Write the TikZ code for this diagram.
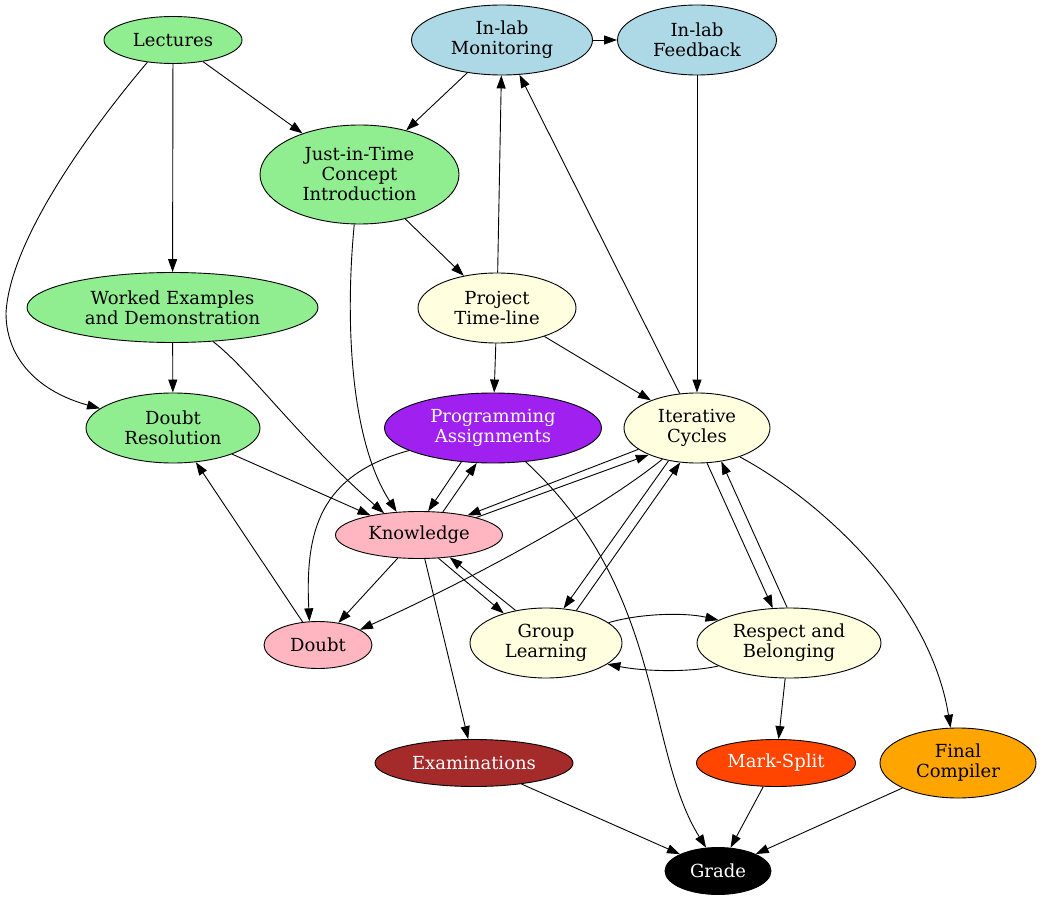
\documentclass[tikz,border=0pt]{standalone}
\usepackage{fontspec}
\setmainfont{DejaVu Serif}
\usetikzlibrary{shapes.geometric,arrows.meta}
\definecolor{lgreen}{HTML}{90EE90}
\definecolor{lblue}{HTML}{ADD8E6}
\definecolor{lyellow}{HTML}{FFFFE0}
\definecolor{lpink}{HTML}{FFB6C1}
\definecolor{gvpurple}{HTML}{A020F0}
\definecolor{gvbrown}{HTML}{A52A2A}
\definecolor{gvorangered}{HTML}{FF4500}
\definecolor{gvorange}{HTML}{FFA500}
\begin{document}
\begin{tikzpicture}[x=1pt,y=-1pt,>={Triangle[length=13pt,width=9pt]},line width=0.9pt]
  \tikzstyle{every node}=[draw,ellipse,inner sep=0pt,align=center,font=\fontsize{18}{20}\selectfont]
  \tikzstyle{onel}=[minimum height=47pt]
  \tikzstyle{twol}=[minimum height=70pt]
  \tikzstyle{threel}=[minimum height=99pt]
  \tikzstyle{teachnode}=[fill=lgreen]
  \tikzstyle{labnode}=[fill=lblue]
  \tikzstyle{cyclenode}=[fill=lyellow]
  \tikzstyle{mindnode}=[fill=lpink]
 \useasboundingbox (0,0) rectangle (1041,901);
 \node[teachnode,onel,minimum width=138pt] (lec) at (173,40) {Lectures};
 \node[labnode,twol,minimum width=181pt] (mon) at (502,40) {In-lab\\Monitoring};
 \node[labnode,twol,minimum width=159pt] (fb) at (697,40) {In-lab\\Feedback};
 \node[teachnode,threel,minimum width=199pt] (jit) at (359.5,174.5) {Just-in-Time\\Concept\\Introduction};
 \node[teachnode,twol,minimum width=291pt] (wex) at (172.5,307.5) {Worked Examples\\and Demonstration};
 \node[cyclenode,twol,minimum width=158pt] (ptl) at (497,308) {Project\\Time-line};
 \node[teachnode,twol,minimum width=174pt] (dres) at (173,428) {Doubt\\Resolution};
 \node[twol,minimum width=217pt,fill=gvpurple,text=white] (pa) at (493,428) {Programming\\Assignments};
 \node[cyclenode,twol,minimum width=146pt] (ic) at (697,428) {Iterative\\Cycles};
 \node[mindnode,onel,minimum width=167pt] (know) at (419,535) {Knowledge};
 \node[mindnode,onel,minimum width=108pt] (doubt) at (318,645) {Doubt};
 \node[cyclenode,twol,minimum width=152pt] (grp) at (546,643) {Group\\Learning};
 \node[cyclenode,twol,minimum width=184pt] (resp) at (789,643) {Respect and\\Belonging};
 \node[onel,minimum width=198pt,fill=gvbrown,text=white] (exam) at (474,763) {Examinations};
 \node[onel,minimum width=159pt,fill=gvorangered,text=white] (mark) at (776,763) {Mark-Split};
 \node[twol,minimum width=156pt,fill=gvorange] (fin) at (958,763) {Final\\Compiler};
 \node[onel,minimum width=106pt,fill=black,text=white] (grade) at (718,871) {Grade};

 \draw [->] (lec) -- (jit);
 \draw [->] (lec) -- (wex);
 \draw [->] (lec.221) .. controls (90,130) and (10,240) .. (6,313) .. controls (6,360) and (40,392) .. (dres.165);
 \draw [->] (mon) -- (fb);
 \draw [->] (mon) -- (jit);
 \draw [->] (fb) -- (ic);
 \draw [->] (jit) -- (ptl);
 \draw [->] (jit.264) .. controls (345,320) and (350,440) .. (know.134);
 \draw [->] (ptl) -- (mon);
 \draw [->] (ptl) -- (pa);
 \draw [->] (ptl) -- (ic);
 \draw [->] (ic) -- (mon);
 \draw [->] (wex) -- (dres);
 \draw [->] (wex.-40) .. controls (250,370) and (300,440) .. (know.148);
 \draw [->] (dres) -- (know.158);
 \draw [->] (pa.227) -- (know.69);
 \draw [->] (know.44) -- (pa.245);
 \draw [->] (pa.195) .. controls (320,475) and (305,530) .. (doubt.110);
 \draw [->] (pa.-46) .. controls (665,590) and (645,750) .. (grade.117);
 \draw [->] (ic.200) -- (know.22);
 \draw [->] (know.17) -- (ic.209);
 \draw [->] (ic.222) .. controls (600,510) and (470,580) .. (doubt.20);
 \draw [->] (ic.229.5) -- (grp.63);
 \draw [->] (grp.47) -- (ic.244);
 \draw [->] (ic.286) -- (resp.115);
 \draw [->] (resp.93) -- (ic.306);
 \draw [->] (ic.-34) .. controls (820,500) and (930,600) .. (fin.102);
 \draw [->] (know) -- (doubt);
 \draw [->] (know.-50) -- (grp.145);
 \draw [->] (grp.133) -- (know.-36);
 \draw [->] (know) -- (exam);
 \draw [->] (doubt) -- (dres);
 \draw [->] (grp.18) .. controls +(30,-9) and +(-35,-8) .. (resp.162);
 \draw [->] (resp.198) .. controls +(-30,7) and +(35,7) .. (grp.-19);
 \draw [->] (resp) -- (mark);
 \draw [->] (exam) -- (grade);
 \draw [->] (mark) -- (grade);
 \draw [->] (fin) -- (grade);

\end{tikzpicture}
\end{document}
